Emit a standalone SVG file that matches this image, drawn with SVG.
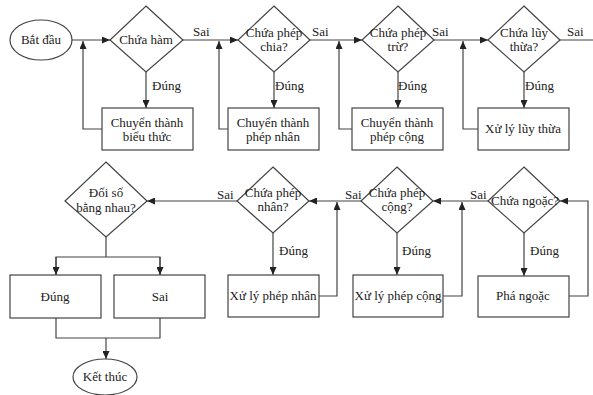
<svg xmlns="http://www.w3.org/2000/svg" width="593" height="395" viewBox="0 0 593 395">
<defs>
<marker id="ah" markerWidth="8" markerHeight="7" refX="8" refY="3.5" orient="auto" markerUnits="userSpaceOnUse">
<path d="M0,0 L8,3.5 L0,7 z" fill="#222"/>
</marker>
<style>
.s{fill:#fff;stroke:#444;stroke-width:1.2}
.c{fill:none;stroke:#444;stroke-width:1.2}
.a{marker-end:url(#ah)}
text{font-family:"Liberation Serif","Times New Roman",serif;font-size:13px;fill:#222}
.m{text-anchor:middle}
</style>
</defs>
<rect width="593" height="395" fill="#fff"/>
<g id="connectors">
<line class="c a" x1="72" y1="40" x2="110" y2="40"/>
<line class="c a" x1="146" y1="72" x2="146" y2="108"/>
<polyline class="c a" points="102,129 83,129 83,41"/>
<line class="c a" x1="183" y1="40" x2="238" y2="40"/>
<line class="c a" x1="274" y1="72" x2="274" y2="108"/>
<polyline class="c a" points="228,129 219,129 219,41"/>
<line class="c a" x1="310" y1="40" x2="362" y2="40"/>
<line class="c a" x1="398" y1="72" x2="398" y2="108"/>
<polyline class="c a" points="352,129 339,129 339,41"/>
<line class="c a" x1="434" y1="40" x2="488" y2="40"/>
<line class="c a" x1="524" y1="72" x2="524" y2="108"/>
<polyline class="c a" points="478,129 463,129 463,41"/>
<line class="c" x1="560" y1="40" x2="593" y2="40"/>
<polyline class="c a" points="569,296 588,296 588,201 560,201"/>
<line class="c a" x1="524" y1="233" x2="524" y2="276"/>
<line class="c a" x1="488" y1="201" x2="433" y2="201"/>
<polyline class="c a" points="443,296 462,296 462,202"/>
<line class="c a" x1="397" y1="233" x2="397" y2="275"/>
<line class="c a" x1="361" y1="201" x2="309" y2="201"/>
<polyline class="c a" points="319,296 337,296 337,202"/>
<line class="c a" x1="273" y1="233" x2="273" y2="275"/>
<line class="c a" x1="237" y1="201" x2="147" y2="201"/>
<polyline class="c" points="106,237 106,257"/>
<polyline class="c" points="56,275 56,257 160,257 160,275"/>
<line class="c a" x1="56" y1="257" x2="56" y2="275"/>
<line class="c a" x1="160" y1="257" x2="160" y2="275"/>
<polyline class="c" points="56,318 56,338 160,338 160,318"/>
<line class="c a" x1="106" y1="338" x2="106" y2="359"/>
<text x="193" y="36">Sai</text>
<text x="312" y="36">Sai</text>
<text x="432" y="36">Sai</text>
<text x="567" y="36">Sai</text>
<text x="152" y="90">Đúng</text>
<text x="275" y="90">Đúng</text>
<text x="398" y="90">Đúng</text>
<text x="525" y="90">Đúng</text>
<text x="470" y="199">Sai</text>
<text x="345" y="199">Sai</text>
<text x="217" y="199">Sai</text>
<text x="530" y="255">Đúng</text>
<text x="402" y="255">Đúng</text>
<text x="279" y="255">Đúng</text>
</g>
<g id="start"><ellipse class="s" cx="41" cy="40" rx="31" ry="20"/><text class="m" x="41" y="44">Bắt đầu</text></g>
<g id="d1"><polygon class="s" points="146,6 183,40 146,72 110,40"/><text class="m" x="146" y="44">Chứa hàm</text></g>
<g id="b1"><rect class="s" x="102" y="108" width="91" height="42"/><text class="m" x="147" y="127">Chuyển thành</text><text class="m" x="147" y="141">biểu thức</text></g>
<g id="d2"><polygon class="s" points="274,6 310,40 274,72 238,40"/><text class="m" x="274" y="37">Chứa phép</text><text class="m" x="274" y="51">chia?</text></g>
<g id="b2"><rect class="s" x="228" y="108" width="91" height="42"/><text class="m" x="273" y="127">Chuyển thành</text><text class="m" x="273" y="141">phép nhân</text></g>
<g id="d3"><polygon class="s" points="398,6 434,40 398,72 362,40"/><text class="m" x="398" y="37">Chứa phép</text><text class="m" x="398" y="51">trừ?</text></g>
<g id="b3"><rect class="s" x="352" y="108" width="91" height="42"/><text class="m" x="397" y="127">Chuyển thành</text><text class="m" x="397" y="141">phép cộng</text></g>
<g id="d4"><polygon class="s" points="524,6 560,40 524,72 488,40"/><text class="m" x="524" y="37">Chứa lũy</text><text class="m" x="524" y="51">thừa?</text></g>
<g id="b4"><rect class="s" x="478" y="108" width="91" height="42"/><text class="m" x="523" y="133">Xử lý lũy thừa</text></g>
<g id="d5"><polygon class="s" points="524,167 560,201 524,233 488,201"/><text class="m" x="525" y="205">Chứa ngoặc?</text></g>
<g id="b5"><rect class="s" x="478" y="276" width="91" height="41"/><text class="m" x="523" y="300">Phá ngoặc</text></g>
<g id="d6"><polygon class="s" points="397,167 433,201 397,233 361,201"/><text class="m" x="397" y="197">Chứa phép</text><text class="m" x="397" y="211">cộng?</text></g>
<g id="b6"><rect class="s" x="353" y="275" width="90" height="42"/><text class="m" x="398" y="300">Xử lý phép cộng</text></g>
<g id="d7"><polygon class="s" points="273,167 309,201 273,233 237,201"/><text class="m" x="273" y="197">Chứa phép</text><text class="m" x="273" y="211">nhân?</text></g>
<g id="b7"><rect class="s" x="228" y="275" width="91" height="42"/><text class="m" x="273" y="300">Xử lý phép nhân</text></g>
<g id="d8"><polygon class="s" points="106,162 147,201 106,237 65,201"/><text class="m" x="106" y="197">Đối số</text><text class="m" x="106" y="212">bằng nhau?</text></g>
<g id="b8"><rect class="s" x="10" y="275" width="91" height="43"/><text class="m" x="55" y="301">Đúng</text></g>
<g id="b9"><rect class="s" x="114" y="275" width="91" height="43"/><text class="m" x="160" y="301">Sai</text></g>
<g id="end"><ellipse class="s" cx="105" cy="377" rx="32" ry="18"/><text class="m" x="105" y="381">Kết thúc</text></g>
</svg>
